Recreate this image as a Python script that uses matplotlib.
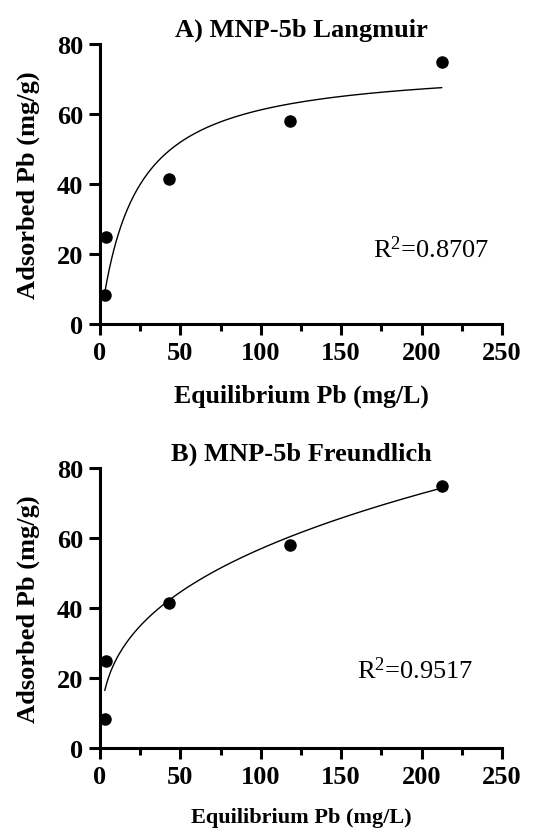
import matplotlib
matplotlib.use("Agg")
import matplotlib.pyplot as plt
import numpy as np
from matplotlib.ticker import MultipleLocator

# equilibrium data
ce = [3.0, 3.5, 43.0, 118.0, 212.5]
qe = [8.3, 24.8, 41.5, 57.9, 74.9]

# fitted model parameters (estimated from curves)
qmax = 74.4
k_l = 0.0463
k_f = 11.2
n_inv = 0.353

titles = ["A) MNP-5b Langmuir", "B) MNP-5b Freundlich"]
r2_text = ["R$^2$=0.8707", "R$^2$=0.9517"]
r2_pos = [(170, 21.5), (160, 22.5)]
xlabel_size = [18.5, 16]

plt.rcParams['font.family'] = ['Liberation Serif', 'DejaVu Serif']
plt.rcParams['mathtext.fontset'] = 'custom'
plt.rcParams['mathtext.rm'] = 'Liberation Serif'
plt.rcParams['mathtext.it'] = 'Liberation Serif:italic'
plt.rcParams['mathtext.bf'] = 'Liberation Serif:bold'

fig = plt.figure(figsize=(5.45, 8.37), dpi=100)
ax1 = fig.add_axes([0.1835, 0.6117, 0.7375, 0.3345])
ax2 = fig.add_axes([0.1835, 0.1051, 0.7375, 0.3346])

c = np.linspace(min(ce), max(ce), 300)
fits = [qmax * k_l * c / (1 + k_l * c), k_f * c ** n_inv]

for i, ax in enumerate([ax1, ax2]):
    ax.plot(c, fits[i], color='black', lw=1.0)
    ax.plot(ce, qe, 'o', color='black', ms=8, clip_on=False, zorder=5)
    ax.set_xlim(0, 250)
    ax.set_ylim(0, 80)
    ax.xaxis.set_major_locator(MultipleLocator(50))
    ax.xaxis.set_minor_locator(MultipleLocator(25))
    ax.yaxis.set_major_locator(MultipleLocator(20))
    for s in ['top', 'right']:
        ax.spines[s].set_visible(False)
    for s in ['left', 'bottom']:
        ax.spines[s].set_linewidth(2.2)
    ax.tick_params(which='major', length=8, width=2.2, labelsize=19, pad=4)
    ax.tick_params(which='minor', length=5, width=2.2)
    for lab in ax.get_xticklabels() + ax.get_yticklabels():
        lab.set_fontweight('bold')
    ax.set_ylabel("Adsorbed Pb (mg/g)", fontsize=19, fontweight='bold', labelpad=12)
    ax.set_xlabel("Equilibrium Pb (mg/L)", fontsize=xlabel_size[i], fontweight='bold', labelpad=14)
    ax.set_title(titles[i], fontsize=19, fontweight='bold', pad=6)
    ax.text(r2_pos[i][0], r2_pos[i][1], r2_text[i], fontsize=19, va='center')

fig.savefig("out.png", dpi=100)
